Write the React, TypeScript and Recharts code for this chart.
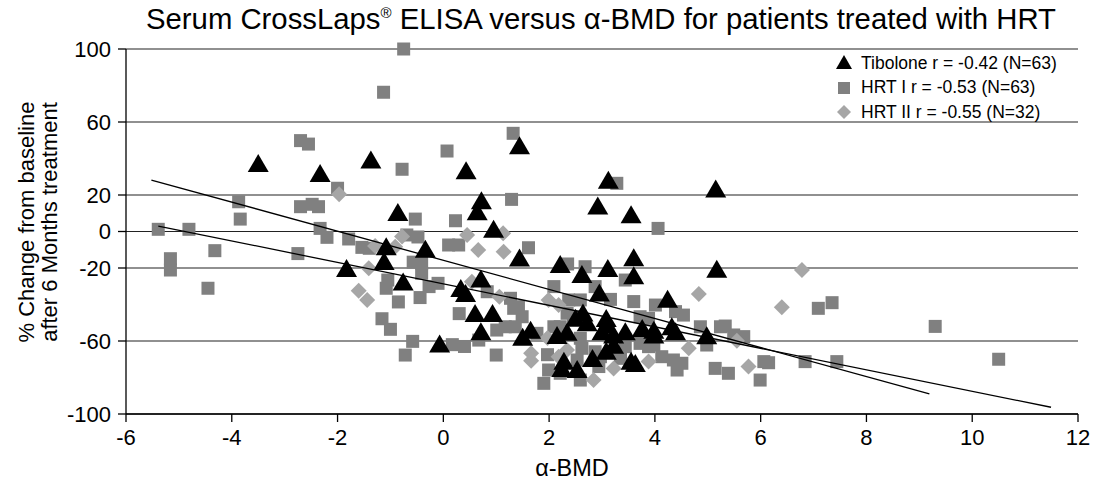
import React from 'react';
import { ScatterChart, Scatter, XAxis, YAxis, CartesianGrid } from 'recharts';

type Pt = { x: number; y: number };
const pts = (arr: number[][]): Pt[] => arr.map(([x, y]) => ({ x, y }));

const xTicks = [-6, -4, -2, 0, 2, 4, 6, 8, 10, 12];
const yTicks = [-100, -60, -20, 0, 20, 60, 100];

const tibolone = pts([
  [-3.5, 36.4], [-2.33, 31], [-1.37, 38.3], [-0.86, 9.6], [-1.08, -9.2], [-1.12, -17.2], [-1.83, -21.1], [-0.76, -28.5],
  [1.44, 46.1], [0.43, 32.4], [0.72, 16], [0.64, 10], [2.92, 13.2], [0.95, 0.4], [-0.34, -10.5], [1.44, -15.4],
  [2.21, -18.9], [2.62, -24.4], [2.95, -34.5], [0.71, -26.8], [0.33, -32], [0.42, -34.8], [0.6, -45.8], [0.93, -45.8],
  [0.71, -55.8], [-0.07, -62.5], [1.5, -58.7], [1.65, -54.9], [2.15, -57.8], [2.34, -56], [2.5, -48.3], [2.64, -45.5],
  [2.72, -50.8], [2.28, -71.9], [2.24, -75.9], [2.53, -76.5], [2.82, -70.4], [3.55, 8.3], [3.11, -21.1], [3.6, -15.2],
  [3.6, -25.1], [5.17, -21.5], [4.24, -37.9], [3.08, -48.5], [3.08, -52.2], [3.0, -55.8], [3.22, -57.6], [3.44, -55.8],
  [3.76, -54], [3.98, -54.9], [3.98, -57.6], [4.32, -53], [4.39, -55.8], [4.98, -58], [3.22, -63.1], [3.08, -66.4],
  [3.55, -71.9], [3.63, -73.2], [3.12, 27.2], [5.15, 22.5],
]);

const hrt1 = pts([
  [-0.75, 100], [-1.13, 76.3], [-2.7, 49.8], [-2.55, 47.9], [-0.78, 34.1], [-2.0, 23.7], [-3.87, 16.3], [-2.7, 13.6],
  [-2.48, 14.9], [-2.36, 13.6], [-3.84, 6.8], [-0.53, 6.8], [-5.39, 1.2], [-4.81, 1.2], [-2.33, 1.7], [-2.2, -3.2],
  [-1.79, -4.1], [-0.69, -1.9], [-0.48, -3.0], [-4.32, -10.5], [-5.16, -14.9], [-5.16, -21.1], [-2.75, -12.1], [-1.54, -8.7],
  [-1.4, -9.2], [-0.57, -16.8], [-0.41, -17.4], [-0.41, -22.9], [-4.45, -31.1], [-1.05, -26.6], [-1.08, -31.1], [-0.85, -38.6],
  [-0.44, -36.2], [-0.27, -30.2], [-0.1, -28.4], [-1.16, -47.8], [-1.0, -53.6], [-0.58, -60.2], [-0.72, -67.7],
  [1.32, 53.8], [0.07, 44.1], [1.29, 17.6], [0.23, 5.9], [0.1, -7.4], [0.29, -7.4], [1.61, -8.9], [0.83, -33],
  [0.3, -45], [1.27, -36.6], [1.42, -41.2], [1.49, -46.7], [1.36, -52.2], [1.17, -52.2], [1.33, -42.1], [1.01, -54],
  [1.77, -55.8], [2.09, -30.2], [2.68, -19.3], [2.35, -17.8], [2.87, -30.2], [2.37, -37.5], [2.59, -37.5], [2.09, -52.2],
  [2.21, -52.2], [2.34, -44.8], [2.46, -46.7], [0.17, -62], [0.4, -63], [0.67, -59.5], [1.0, -67.7], [1.97, -67.5],
  [1.99, -75.9], [2.21, -77.7], [1.9, -83.2], [2.53, -70.4], [2.59, -58.5], [2.62, -64], [2.59, -81.4], [2.87, -65.9],
  [2.97, -68.6], [3.16, -65.9], [2.94, -74], [3.35, -69.5], [3.44, -63.1],
  [3.28, 26.4], [4.06, 1.7], [3.44, -26.6], [3.16, -37.2], [3.6, -38.4], [4.01, -40.3], [4.39, -43.9], [4.54, -45.8],
  [3.72, -46.7], [3.88, -47.6], [3.72, -61.3], [3.88, -63.1], [3.98, -62.2], [4.13, -68.6], [4.42, -75.9], [4.35, -70.4],
  [4.51, -72.2], [4.86, -52.2], [4.98, -62.2], [5.24, -52.2], [5.33, -51.8], [5.49, -56.7], [5.68, -57.6], [5.14, -75],
  [5.39, -77.7], [5.99, -81.4], [6.06, -71.3], [6.15, -71.9], [6.84, -71.3], [7.09, -42.1], [7.35, -39], [7.44, -71.3],
  [9.3, -52], [10.5, -70],
]);

const hrt2 = pts([
  [-1.97, 20.4], [-1.29, -7.9], [-0.91, -8.3], [-0.78, -2.8], [-1.41, -20.2], [-1.6, -32.4], [-1.44, -37.5], [0.45, -1.9],
  [1.13, -1], [0.66, -10.1], [1.14, -11.1], [0.54, -27.5], [1.06, -35.7], [1.99, -37.5], [2.18, -40.3], [1.66, -66.7],
  [1.66, -70.8], [4.83, -34.2], [6.78, -21.1], [6.4, -41.5], [5.55, -59.8], [5.77, -74], [4.64, -64], [3.88, -71.3],
  [3.22, -75], [2.84, -81.4], [2.34, -64.9], [2.18, -68.6], [1.97, -58.3],
]);

// regression lines, end points
const trendA = pts([[-5.52, 28.2], [9.19, -89]]);
const trendB = pts([[-5.39, 3.0], [11.49, -96.3]]);

const font = '"Liberation Sans", Arial, sans-serif';

const Triangle = (p: any) => (
  <polygon points={`${p.cx},${p.cy - 11} ${p.cx - 10.5},${p.cy + 7} ${p.cx + 10.5},${p.cy + 7}`} fill="#000" />
);
const Square = (p: any) => <rect x={p.cx - 6.5} y={p.cy - 6.5} width={13} height={13} fill="#808080" />;
const Diamond = (p: any) => (
  <polygon points={`${p.cx},${p.cy - 8} ${p.cx + 8},${p.cy} ${p.cx},${p.cy + 8} ${p.cx - 8},${p.cy}`} fill="#a6a6a6" />
);
const NoDot = () => <g />;

const legendRows = [
  { label: 'Tibolone r = -0.42 (N=63)', marker: 'tri' },
  { label: 'HRT I r = -0.53 (N=63)', marker: 'sq' },
  { label: 'HRT II r = -0.55 (N=32)', marker: 'dia' },
];

const LegendMarker = ({ kind }: { kind: string }) => (
  <svg width={20} height={20} style={{ display: 'block' }}>
    {kind === 'tri' && <polygon points="10,2 2,16 18,16" fill="#000" />}
    {kind === 'sq' && <rect x={4} y={4} width={12} height={12} fill="#808080" />}
    {kind === 'dia' && <polygon points="10,3 17,10 10,17 3,10" fill="#a6a6a6" />}
  </svg>
);

export default function App() {
  return (
    <div style={{ position: 'absolute', left: 0, top: 0, width: 1098, height: 482, background: '#fff', fontFamily: font }}>
      <div style={{ position: 'absolute', left: 601, top: 4, transform: 'translateX(-50%)', whiteSpace: 'nowrap', fontSize: 29.3, lineHeight: '30px', color: '#000' }}>
        Serum CrossLaps<span style={{ fontSize: 15, position: 'relative', top: -11 }}>®</span> ELISA versus α-BMD for patients treated with HRT
      </div>

      <ScatterChart width={1098} height={482} margin={{ top: 49, right: 20, bottom: 38, left: 60 }}>
        <CartesianGrid horizontal vertical={false} stroke="#222" strokeWidth={1.2} />
        <XAxis
          type="number"
          dataKey="x"
          domain={[-6, 12]}
          ticks={xTicks}
          interval={0}
          height={30}
          tickSize={8}
          tickMargin={7}
          axisLine={{ stroke: '#000', strokeWidth: 1.3 }}
          tickLine={{ stroke: '#000', strokeWidth: 1.3 }}
          tick={{ fill: '#000', fontSize: 22, fontFamily: font }}
        />
        <YAxis
          type="number"
          dataKey="y"
          domain={[-100, 100]}
          ticks={yTicks}
          interval={0}
          width={66}
          tickSize={8}
          tickMargin={7}
          axisLine={{ stroke: '#000', strokeWidth: 1.3 }}
          tickLine={{ stroke: '#000', strokeWidth: 1.3 }}
          tick={{ fill: '#000', fontSize: 22, fontFamily: font }}
        />
        <Scatter name="HRT I" data={hrt1} shape={Square} isAnimationActive={false} />
        <Scatter name="HRT II" data={hrt2} shape={Diamond} isAnimationActive={false} />
        <Scatter name="Tibolone" data={tibolone} shape={Triangle} isAnimationActive={false} />
        <Scatter data={trendA} line={{ stroke: '#000', strokeWidth: 1.3 }} shape={NoDot} isAnimationActive={false} />
        <Scatter data={trendB} line={{ stroke: '#000', strokeWidth: 1.3 }} shape={NoDot} isAnimationActive={false} />
      </ScatterChart>

      <div
        style={{
          position: 'absolute', left: 38, top: 222, width: 320, transform: 'translate(-50%, -50%) rotate(-90deg)',
          textAlign: 'center', fontSize: 22, lineHeight: '23px', color: '#000', whiteSpace: 'nowrap',
        }}
      >
        % Change from baseline<br />after 6 Months treatment
      </div>

      <div style={{ position: 'absolute', left: 572, top: 468, transform: 'translate(-50%, -50%)', fontSize: 23.5, color: '#000' }}>
        α-BMD
      </div>

      <div style={{ position: 'absolute', left: 834, top: 51 }}>
        {legendRows.map((r) => (
          <div key={r.label} style={{ display: 'flex', alignItems: 'center', height: 24.5, fontSize: 17.5, color: '#000' }}>
            <LegendMarker kind={r.marker} />
            <span style={{ marginLeft: 7 }}>{r.label}</span>
          </div>
        ))}
      </div>
    </div>
  );
}
